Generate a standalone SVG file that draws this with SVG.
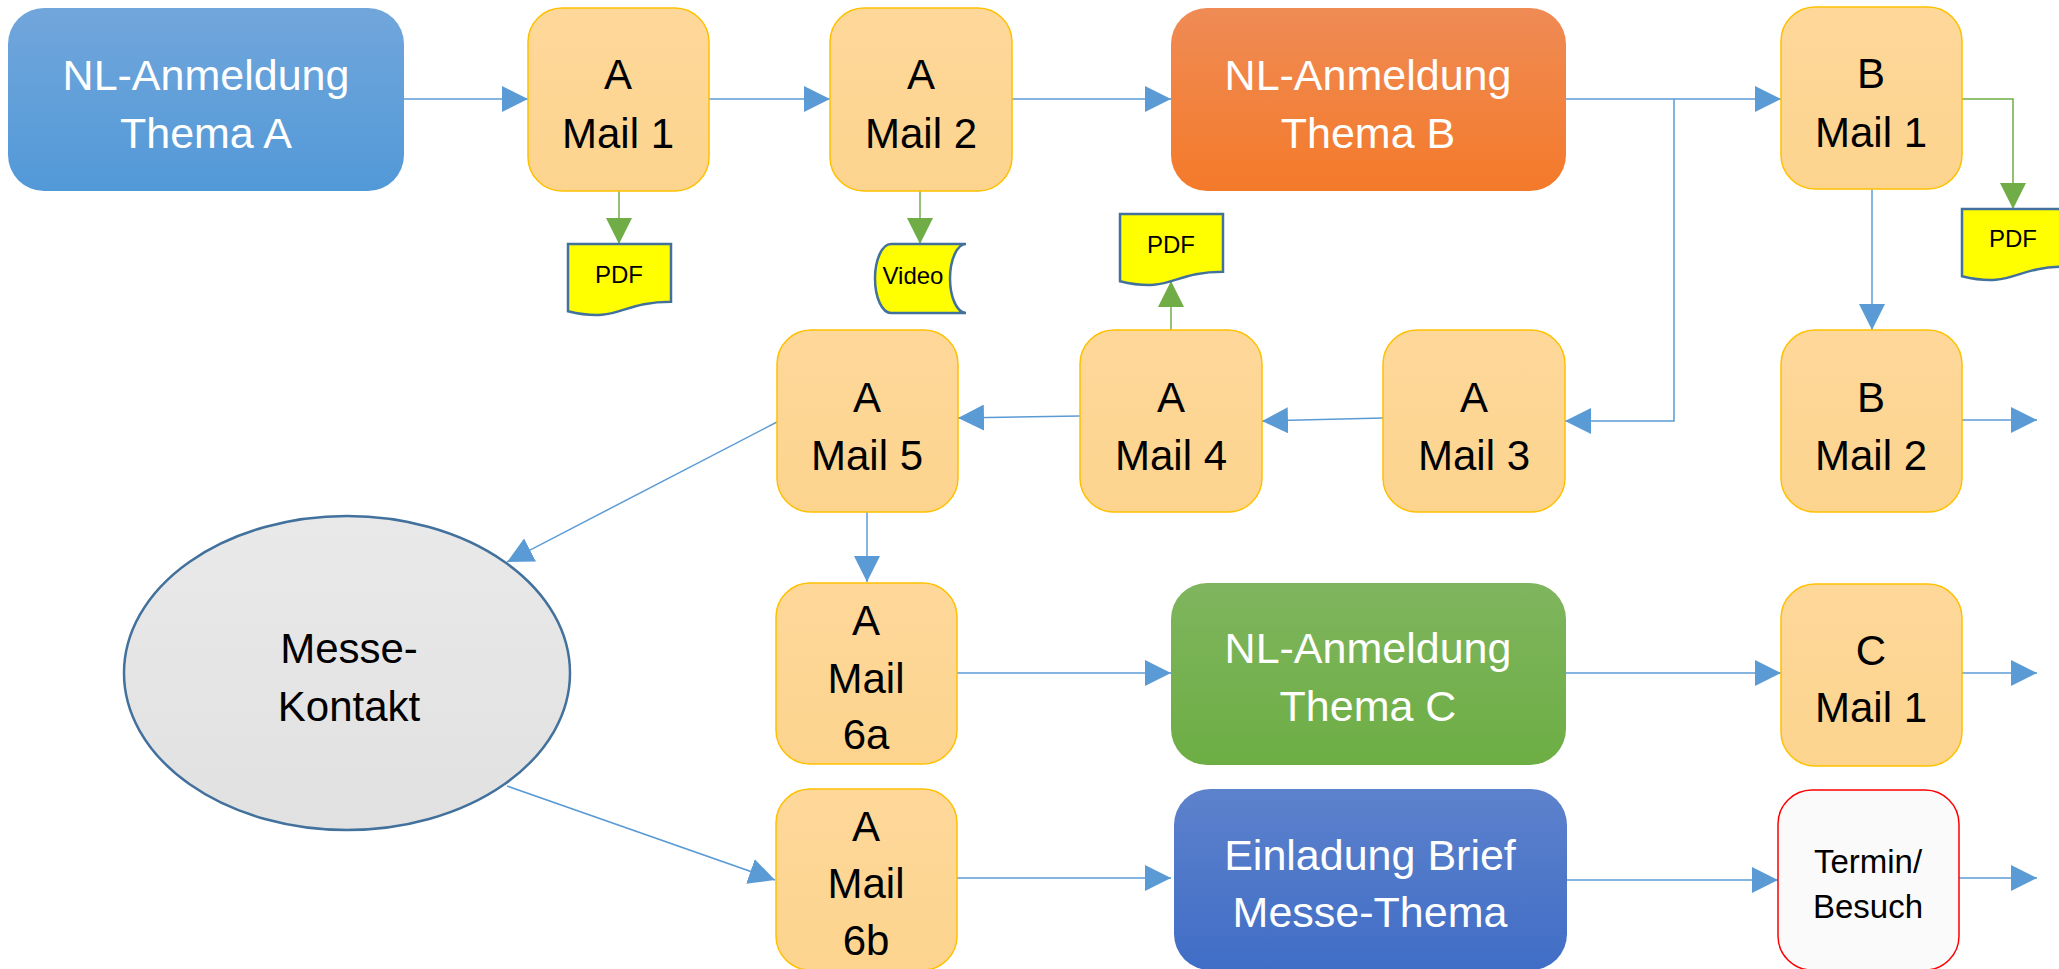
<svg xmlns="http://www.w3.org/2000/svg" width="2059" height="969" viewBox="0 0 2059 969">
<defs>
<linearGradient id="gA" x1="0" y1="0" x2="0" y2="1"><stop offset="0" stop-color="#71A6DB"/><stop offset="1" stop-color="#5299D8"/></linearGradient>
<linearGradient id="gB" x1="0" y1="0" x2="0" y2="1"><stop offset="0" stop-color="#EF8B55"/><stop offset="1" stop-color="#F47A2A"/></linearGradient>
<linearGradient id="gC" x1="0" y1="0" x2="0" y2="1"><stop offset="0" stop-color="#7FB55E"/><stop offset="1" stop-color="#6DAE44"/></linearGradient>
<linearGradient id="gE" x1="0" y1="0" x2="0" y2="1"><stop offset="0" stop-color="#5D82CC"/><stop offset="1" stop-color="#406DC6"/></linearGradient>
<linearGradient id="gM" x1="0" y1="0" x2="0" y2="1"><stop offset="0" stop-color="#FED89A"/><stop offset="1" stop-color="#FCD48E"/></linearGradient>
<linearGradient id="gG" x1="0" y1="0" x2="0" y2="1"><stop offset="0" stop-color="#E9E9E9"/><stop offset="1" stop-color="#E1E1E1"/></linearGradient>
<marker id="ab" markerUnits="userSpaceOnUse" markerWidth="26" markerHeight="26" refX="26" refY="13" orient="auto" viewBox="0 0 26 26"><path d="M0,0 L26,13 L0,26 Z" fill="#5B9BD5"/></marker>
<marker id="ag" markerUnits="userSpaceOnUse" markerWidth="26" markerHeight="26" refX="26" refY="13" orient="auto" viewBox="0 0 26 26"><path d="M0,0 L26,13 L0,26 Z" fill="#70AD47"/></marker>
</defs>
<style>
.big{font-family:"Liberation Sans",Arial,sans-serif;font-size:43px;fill:#fff;text-anchor:middle}
.mt{font-family:"Liberation Sans",Arial,sans-serif;font-size:42px;fill:#000;text-anchor:middle}
.sm{font-family:"Liberation Sans",Arial,sans-serif;font-size:24px;fill:#000;text-anchor:middle}
.tb{font-family:"Liberation Sans",Arial,sans-serif;font-size:33px;fill:#000;text-anchor:middle}
.mail{fill:url(#gM);stroke:#FFC000;stroke-width:1.5}
.doc{fill:#FFFF00;stroke:#41719C;stroke-width:2.5}
.cb{fill:none;stroke:#5B9BD5;stroke-width:1.5;marker-end:url(#ab)}
.cg{fill:none;stroke:#70AD47;stroke-width:1.5;marker-end:url(#ag)}
</style>
<rect width="2059" height="969" fill="#fff"/>

<g id="connectors">
<path class="cb" d="M404,99 L528,99"/>
<path class="cb" d="M709,99 L830,99"/>
<path class="cb" d="M1012,99 L1171,99"/>
<path class="cb" d="M1566,99 L1781,99"/>
<path class="cb" d="M1674,99 L1674,421 L1565,421"/>
<path class="cb" d="M1872,189 L1872,330"/>
<path class="cb" d="M1962,420 L2037,420"/>
<path class="cb" d="M1383,418 L1262,421"/>
<path class="cb" d="M1080,416 L958,418"/>
<path class="cb" d="M777,422 L507,562"/>
<path class="cb" d="M867,512 L867,582"/>
<path class="cb" d="M957,673 L1171,673"/>
<path class="cb" d="M1566,673 L1781,673"/>
<path class="cb" d="M1962,673 L2037,673"/>
<path class="cb" d="M507,786 L775,880"/>
<path class="cb" d="M957,878 L1171,878"/>
<path class="cb" d="M1567,880 L1778,880"/>
<path class="cb" d="M1959,878 L2037,878"/>
<path class="cg" d="M619,191 L619,244"/>
<path class="cg" d="M920,191 L920,244"/>
<path class="cg" d="M1171,330 L1171,281"/>
<path class="cg" d="M1962,99 L2013,99 L2013,209"/>
</g>

<g id="nl-a"><rect x="8" y="8" width="396" height="183" rx="36" fill="url(#gA)"/><text class="big" x="206" y="90">NL-Anmeldung</text><text class="big" x="206" y="148">Thema A</text></g>
<g id="a-mail1"><rect class="mail" x="528" y="8" width="181" height="183" rx="34"/><text class="mt" x="618" y="89">A</text><text class="mt" x="618" y="148">Mail 1</text></g>
<g id="a-mail2"><rect class="mail" x="830" y="8" width="182" height="183" rx="34"/><text class="mt" x="921" y="89">A</text><text class="mt" x="921" y="148">Mail 2</text></g>
<g id="nl-b"><rect x="1171" y="8" width="395" height="183" rx="36" fill="url(#gB)"/><text class="big" x="1368" y="90">NL-Anmeldung</text><text class="big" x="1368" y="148">Thema B</text></g>
<g id="b-mail1"><rect class="mail" x="1781" y="7" width="181" height="182" rx="34"/><text class="mt" x="1871" y="88">B</text><text class="mt" x="1871" y="147">Mail 1</text></g>

<g id="pdf1"><path class="doc" d="M568,244 H671 V301.7 C619.5,301.7 619.5,323.7 568,311.2 Z"/><text class="sm" x="619" y="283">PDF</text></g>
<g id="video"><path class="doc" d="M891,244 L966,244 A16,34.5 0 0 0 966,313 L891,313 A16,34.5 0 0 1 891,244 Z"/><text class="sm" x="913" y="284">Video</text></g>
<g id="pdf2"><path class="doc" d="M1120,214 H1223 V271.7 C1171.5,271.7 1171.5,293.7 1120,281.2 Z"/><text class="sm" x="1171" y="253">PDF</text></g>
<g id="pdf3"><path class="doc" d="M1962,209 H2065 V266.7 C2013.5,266.7 2013.5,288.7 1962,276.2 Z"/><text class="sm" x="2013" y="247">PDF</text></g>

<g id="a-mail5"><rect class="mail" x="777" y="330" width="181" height="182" rx="34"/><text class="mt" x="867" y="412">A</text><text class="mt" x="867" y="470">Mail 5</text></g>
<g id="a-mail4"><rect class="mail" x="1080" y="330" width="182" height="182" rx="34"/><text class="mt" x="1171" y="412">A</text><text class="mt" x="1171" y="470">Mail 4</text></g>
<g id="a-mail3"><rect class="mail" x="1383" y="330" width="182" height="182" rx="34"/><text class="mt" x="1474" y="412">A</text><text class="mt" x="1474" y="470">Mail 3</text></g>
<g id="b-mail2"><rect class="mail" x="1781" y="330" width="181" height="182" rx="34"/><text class="mt" x="1871" y="412">B</text><text class="mt" x="1871" y="470">Mail 2</text></g>

<g id="messe"><ellipse cx="347" cy="673" rx="223" ry="157" fill="url(#gG)" stroke="#41719C" stroke-width="2.5"/><text class="mt" x="349" y="663">Messe-</text><text class="mt" x="349" y="721">Kontakt</text></g>

<g id="a-mail6a"><rect class="mail" x="776" y="583" width="181" height="181" rx="34"/><text class="mt" x="866" y="635">A</text><text class="mt" x="866" y="693">Mail</text><text class="mt" x="866" y="749">6a</text></g>
<g id="nl-c"><rect x="1171" y="583" width="395" height="182" rx="36" fill="url(#gC)"/><text class="big" x="1368" y="663">NL-Anmeldung</text><text class="big" x="1368" y="721">Thema C</text></g>
<g id="c-mail1"><rect class="mail" x="1781" y="584" width="181" height="182" rx="34"/><text class="mt" x="1871" y="665">C</text><text class="mt" x="1871" y="722">Mail 1</text></g>

<g id="a-mail6b"><rect class="mail" x="776" y="789" width="181" height="181" rx="34"/><text class="mt" x="866" y="841">A</text><text class="mt" x="866" y="898">Mail</text><text class="mt" x="866" y="955">6b</text></g>
<g id="einladung"><rect x="1174" y="789" width="393" height="181" rx="36" fill="url(#gE)"/><text class="big" x="1370" y="870">Einladung Brief</text><text class="big" x="1370" y="927">Messe-Thema</text></g>
<g id="termin"><rect x="1778" y="790" width="181" height="180" rx="34" fill="#FAFAFA" stroke="#FF0000" stroke-width="1.5"/><text class="tb" x="1868" y="873">Termin/</text><text class="tb" x="1868" y="918">Besuch</text></g>
</svg>
